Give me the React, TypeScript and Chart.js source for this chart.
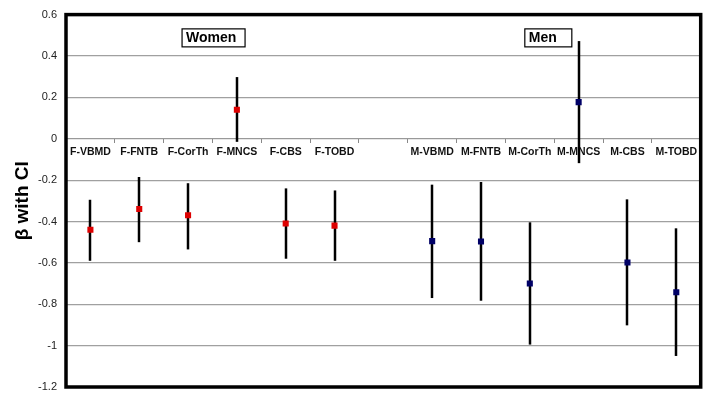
import React, { useEffect, useRef } from "react";
import { Chart, registerables } from "chart.js";

Chart.register(...registerables);

const categories = [
  "F-VBMD", "F-FNTB", "F-CorTh", "F-MNCS", "F-CBS", "F-TOBD", "",
  "M-VBMD", "M-FNTB", "M-CorTh", "M-MNCS", "M-CBS", "M-TOBD",
];
const womenBeta = [-0.44, -0.34, -0.37, 0.14, -0.41, -0.42, null, null, null, null, null, null, null];
const womenLower = [-0.59, -0.5, -0.535, -0.015, -0.58, -0.59, null, null, null, null, null, null, null];
const womenUpper = [-0.295, -0.185, -0.215, 0.298, -0.24, -0.25, null, null, null, null, null, null, null];
const menBeta = [null, null, null, null, null, null, null, -0.495, -0.497, -0.7, 0.177, -0.598, -0.742];
const menLower = [null, null, null, null, null, null, null, -0.77, -0.783, -0.995, -0.118, -0.902, -1.05];
const menUpper = [null, null, null, null, null, null, null, -0.222, -0.209, -0.404, 0.472, -0.293, -0.433];
const yTicks = [0.6, 0.4, 0.2, 0, -0.2, -0.4, -0.6, -0.8, -1, -1.2];
const groupLabels = ["Women", "Men"];

const FONT = "Arial, 'Liberation Sans', sans-serif";

const errorBarPlugin = {
  id: "errorBars",
  beforeDatasetsDraw(chart: any) {
    const { ctx, scales } = chart;
    const x = scales.x;
    const y = scales.y;
    ctx.save();
    ctx.strokeStyle = "#000";
    ctx.lineWidth = 2.5;
    const pairs = [
      [womenLower, womenUpper],
      [menLower, menUpper],
    ];
    pairs.forEach(([lo, hi]) => {
      lo.forEach((l: number | null, i: number) => {
        const h = hi[i];
        if (l == null || h == null) return;
        const px = Math.round(x.getPixelForValue(i));
        ctx.beginPath();
        ctx.moveTo(px, y.getPixelForValue(l));
        ctx.lineTo(px, y.getPixelForValue(h));
        ctx.stroke();
      });
    });
    ctx.restore();
  },
  afterDraw(chart: any) {
    const { ctx, chartArea, scales } = chart;
    const x = scales.x;
    const y = scales.y;
    ctx.save();
    ctx.strokeStyle = "#000";
    ctx.lineWidth = 3.5;
    ctx.strokeRect(chartArea.left, chartArea.top, chartArea.right - chartArea.left, chartArea.bottom - chartArea.top);
    const boxes = [
      { text: groupLabels[0], left: x.getPixelForValue(2) - 6, w: 63 },
      { text: groupLabels[1], left: x.getPixelForValue(9) - 5, w: 47 },
    ];
    const top = y.getPixelForValue(0.531);
    ctx.lineWidth = 1.2;
    ctx.font = `bold 14px ${FONT}`;
    ctx.textBaseline = "middle";
    ctx.textAlign = "left";
    boxes.forEach((b) => {
      ctx.fillStyle = "#fff";
      ctx.fillRect(b.left, top, b.w, 18);
      ctx.strokeStyle = "#000";
      ctx.strokeRect(b.left, top, b.w, 18);
      ctx.fillStyle = "#000";
      ctx.fillText(b.text, b.left + 4, top + 9.5);
    });
    ctx.restore();
  },
};

export default function App() {
  const canvasRef = useRef<HTMLCanvasElement | null>(null);

  useEffect(() => {
    if (!canvasRef.current) return;
    const chart = new Chart(canvasRef.current, {
      type: "line",
      data: {
        labels: categories,
        datasets: [
          {
            label: "Women",
            data: womenBeta,
            showLine: false,
            pointStyle: "rect",
            pointRadius: 4.3,
            backgroundColor: "#dd0000",
            borderColor: "#dd0000",
            borderWidth: 0,
          },
          {
            label: "Men",
            data: menBeta,
            showLine: false,
            pointStyle: "rect",
            pointRadius: 4.3,
            backgroundColor: "#000066",
            borderColor: "#000066",
            borderWidth: 0,
          },
        ],
      },
      options: {
        animation: false,
        responsive: true,
        maintainAspectRatio: false,
        layout: { padding: { left: 0, top: 6, right: 4, bottom: 7 } },
        plugins: { legend: { display: false }, tooltip: { enabled: false } },
        scales: {
          x: {
            type: "category",
            position: { y: 0 } as any,
            offset: true,
            grid: {
              drawOnChartArea: false,
              drawTicks: true,
              tickLength: 4,
              color: "#888",
              offset: true,
            },
            border: { display: true, color: "#999", width: 1 },
            ticks: {
              autoSkip: false,
              maxRotation: 0,
              padding: 3,
              color: "#111",
              font: { family: FONT, size: 10.5, weight: "bold" },
            },
          },
          y: {
            min: -1.2,
            max: 0.6,
            afterBuildTicks: (scale: any) => {
              scale.ticks = yTicks.map((v) => ({ value: v }));
            },
            afterFit: (scale: any) => {
              scale.width = 58;
            },
            grid: {
              color: "#a0a0a0",
              lineWidth: 1.2,
              drawTicks: true,
              tickLength: 9,
              tickColor: "rgba(0,0,0,0)",
            },
            border: { display: false },
            ticks: {
              padding: 0,
              color: "#222",
              font: { family: FONT, size: 11 },
              callback: (v: any) => String(Math.round(Number(v) * 10) / 10),
            },
            title: {
              display: true,
              text: "β with CI",
              color: "#000",
              font: { family: FONT, size: 19, weight: "bold" },
              padding: { top: 3, bottom: 0 },
            },
          },
        },
      },
      plugins: [errorBarPlugin],
    });
    return () => chart.destroy();
  }, []);

  return (
    <div style={{ width: 697, height: 386, position: "relative" }}>
      <canvas ref={canvasRef} />
    </div>
  );
}
